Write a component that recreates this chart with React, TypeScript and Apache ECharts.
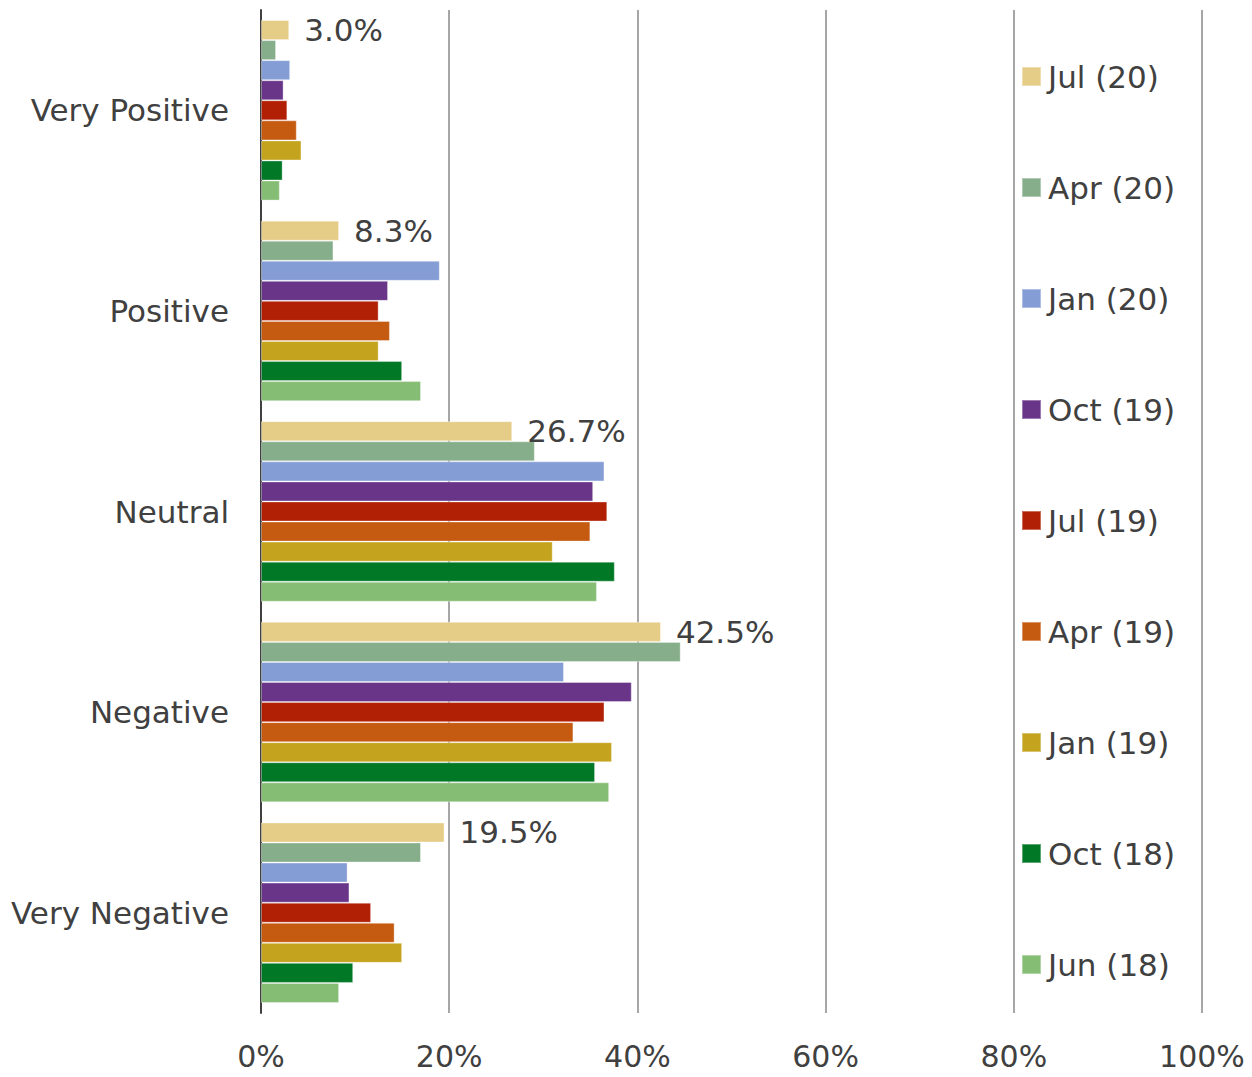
import React, { useEffect, useRef } from "react";
import * as echarts from "echarts";

const categories = ["Very Positive", "Positive", "Neutral", "Negative", "Very Negative"];
const seriesNames = ["Jul (20)", "Apr (20)", "Jan (20)", "Oct (19)", "Jul (19)", "Apr (19)", "Jan (19)", "Oct (18)", "Jun (18)"];
const colors = ["#E6CD87", "#86AE8A", "#859DD5", "#693589", "#B11F04", "#C55A11", "#C4A41F", "#007826", "#86BD75"];

const jul20 = [3.0, 8.3, 26.7, 42.5, 19.5];
const apr20 = [1.6, 7.7, 29.1, 44.6, 17.0];
const jan20 = [3.1, 19.0, 36.5, 32.2, 9.2];
const oct19 = [2.4, 13.5, 35.3, 39.4, 9.4];
const jul19 = [2.8, 12.5, 36.8, 36.5, 11.7];
const apr19 = [3.8, 13.7, 35.0, 33.2, 14.2];
const jan19 = [4.3, 12.5, 31.0, 37.3, 15.0];
const oct18 = [2.3, 15.0, 37.6, 35.5, 9.8];
const jun18 = [2.0, 17.0, 35.7, 37.0, 8.3];

const seriesData = [jul20, apr20, jan20, oct19, jul19, apr19, jan19, oct18, jun18];
const xTicks = [0, 20, 40, 60, 80, 100];

const FONT = "DejaVu Sans";
const TEXT = "#404040";

export default function App() {
  const ref = useRef<HTMLDivElement>(null);
  useEffect(() => {
    if (!ref.current) return;
    const chart = echarts.init(ref.current, null, { renderer: "svg" });
    chart.setOption({
      animation: false,
      textStyle: { fontFamily: FONT },
      grid: { left: 261, right: 50, top: 10, bottom: 64, containLabel: false },
      legend: {
        orient: "vertical",
        left: 1016,
        top: 56,
        itemWidth: 19,
        itemHeight: 19,
        itemGap: 80,
        icon: "rect",
        textStyle: { fontFamily: FONT, fontSize: 31, color: TEXT, padding: [0, 0, 0, 2] },
        data: seriesNames,
      },
      xAxis: {
        type: "value",
        min: xTicks[0],
        max: xTicks[xTicks.length - 1],
        interval: 20,
        axisLine: { show: false },
        axisTick: { show: false },
        axisLabel: {
          formatter: "{value}%",
          fontFamily: FONT,
          fontSize: 30,
          color: TEXT,
          margin: 28,
        },
        splitLine: { show: true, lineStyle: { color: "#A6A6A6", width: 2 } },
      },
      yAxis: {
        type: "category",
        data: categories,
        inverse: true,
        axisLine: { show: true, lineStyle: { color: "#404040", width: 2 } },
        axisTick: { show: false },
        axisLabel: { fontFamily: FONT, fontSize: 31, color: TEXT, margin: 32 },
      },
      series: seriesNames.map((name, i) => ({
        name,
        type: "bar",
        data: seriesData[i],
        barGap: "0%",
        barCategoryGap: "10%",
        itemStyle: { color: colors[i], borderColor: "rgba(255,255,255,0.35)", borderWidth: 1 },
        label:
          i === 0
            ? {
                show: true,
                position: "right",
                distance: 15,
                formatter: (p: any) => p.value.toFixed(1) + "%",
                fontFamily: FONT,
                fontSize: 31,
                color: TEXT,
              }
            : { show: false },
      })),
    });
    return () => chart.dispose();
  }, []);
  return (
    <div
      ref={ref}
      style={{ position: "fixed", left: 0, top: 0, width: 1252, height: 1077, background: "#fff" }}
    />
  );
}
